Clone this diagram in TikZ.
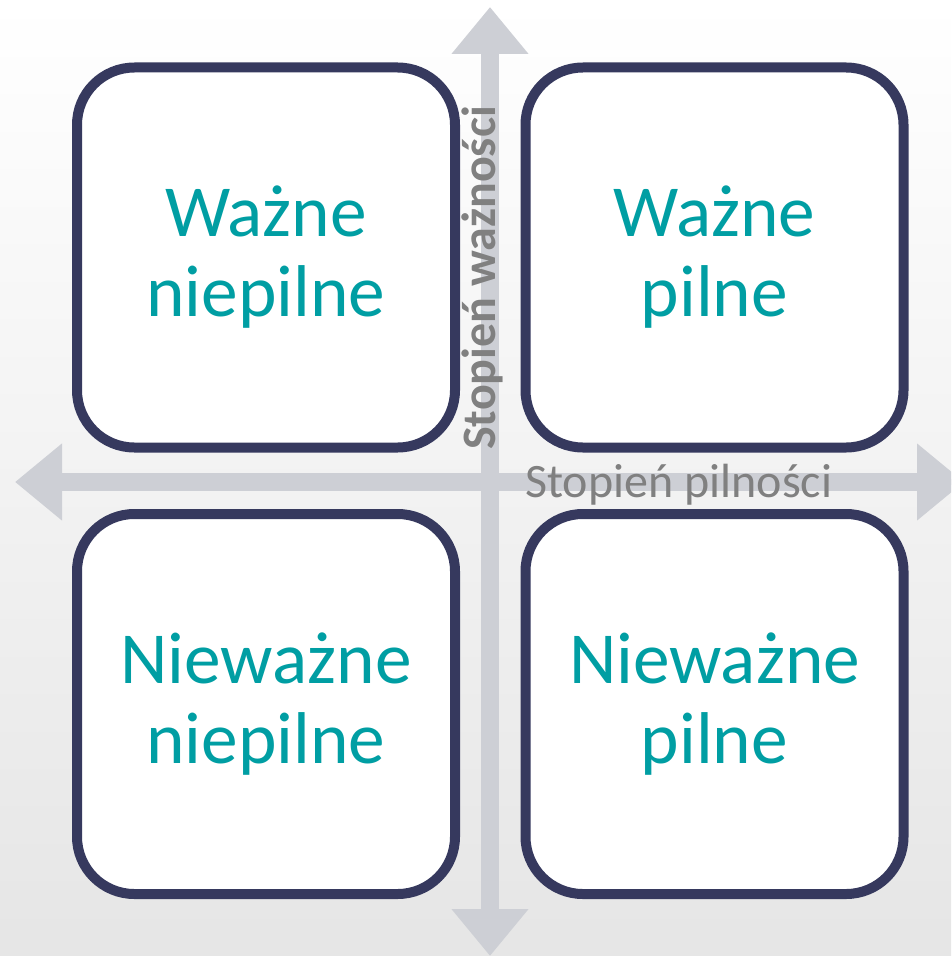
\documentclass[tikz,border=0pt]{standalone}
\usepackage{fontspec}
\setmainfont{Carlito}
\usepackage{xcolor}
\usetikzlibrary{arrows.meta}

\definecolor{boxline}{RGB}{54,57,94}
\definecolor{quadtext}{RGB}{0,158,163}
\definecolor{axisgray}{RGB}{205,207,213}
\definecolor{labelgray}{RGB}{128,128,128}

\tikzset{
  quad/.style={draw=boxline, line width=7.5pt, fill=white, rounded corners=43pt,
    minimum width=283.5pt, minimum height=285pt, inner sep=0pt, align=center,
    text=quadtext, font=\fontsize{55}{60}\selectfont},
  axis/.style={draw=axisgray, line width=13.5pt,
    {Triangle[width=55.5pt,length=35.25pt]}-{Triangle[width=55.5pt,length=35.25pt]}},
  axislabel/.style={text=labelgray, inner sep=0pt, font=\fontsize{36}{42}\selectfont},
}

\begin{document}
\begin{tikzpicture}[x=0.75pt,y=0.75pt,yscale=-1,xscale=1]
    \clip (0,0) rectangle (951,956);
    % background
    \shade[top color=white, middle color=black!3, bottom color=black!10] (0,0) rectangle (951,956);

    % axis ends
    \coordinate (top) at (490,7);
    \coordinate (bottom) at (490,956);
    \coordinate (left) at (15,482);
    \coordinate (right) at (964,482);
    \draw[axis] (bottom) -- (top);
    \draw[axis] (left) -- (right);

    % quadrants
    \node[quad] (tl) at (266,257.5) {Ważne\\niepilne};
    \node[quad] (tr) at (714.5,257.5) {Ważne\\pilne};
    \node[quad] (bl) at (266,704) {Nieważne\\niepilne};
    \node[quad] (br) at (714.5,704) {Nieważne\\pilne};

    % Text Node
    \node[axislabel, font=\fontsize{36}{42}\selectfont\bfseries, rotate=90, anchor=base] (importance) at (495,278) {Stopień ważności};
    % Text Node
    \node[axislabel, anchor=base west] (urgency) at (525,497) {Stopień pilności};
\end{tikzpicture}
\end{document}
